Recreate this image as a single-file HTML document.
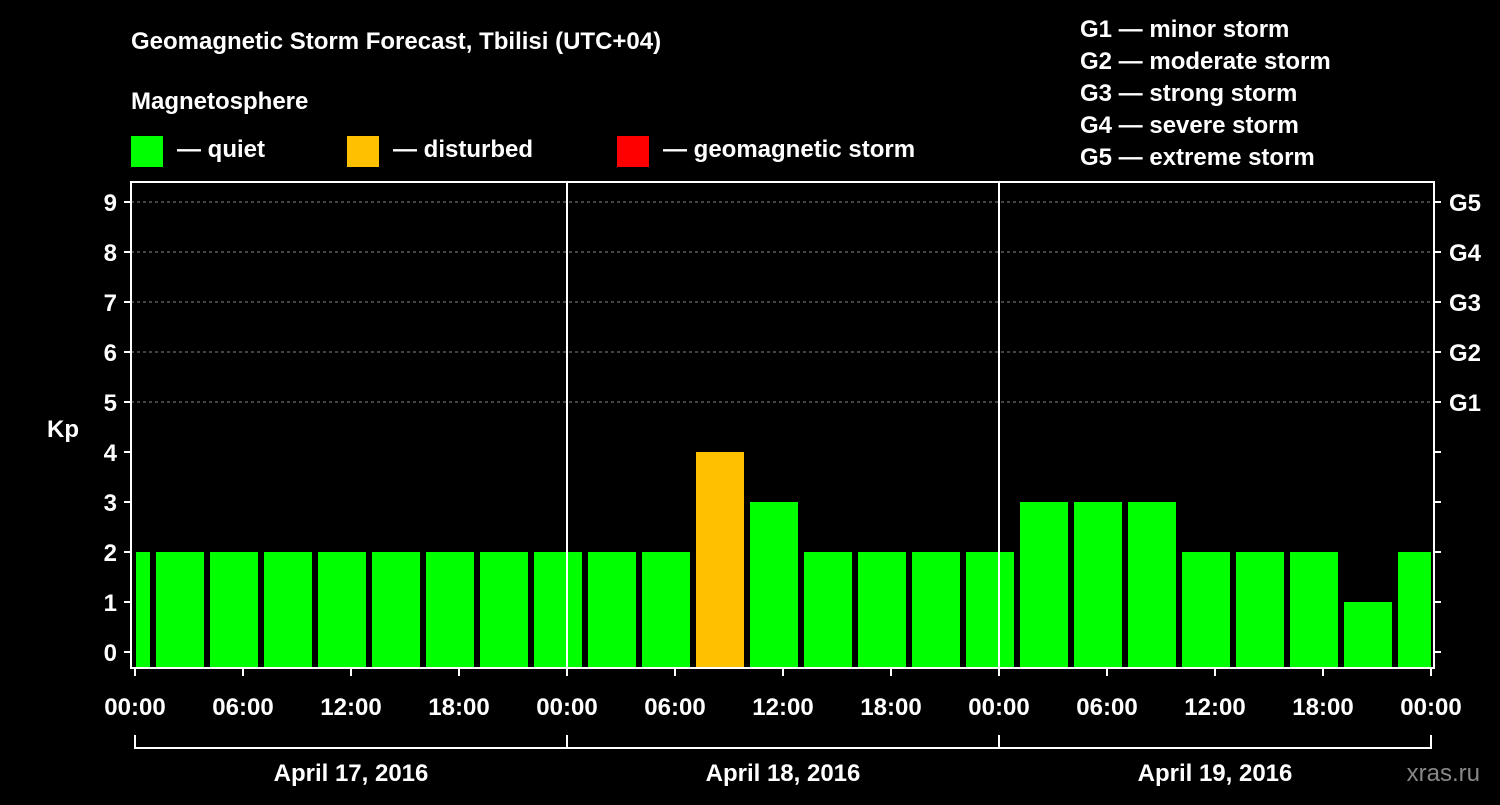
<!DOCTYPE html>
<html><head><meta charset="utf-8"><style>
body{margin:0;background:#000;width:1500px;height:800px;overflow:hidden;font-family:"Liberation Sans",sans-serif}
svg text{font-family:"Liberation Sans",sans-serif;font-weight:bold;fill:#fff}
</style></head><body>
<svg id="chart" width="1500" height="800" xmlns="http://www.w3.org/2000/svg">
<rect width="1500" height="800" fill="#000"/>
<text x="131" y="49" font-size="24">Geomagnetic Storm Forecast, Tbilisi (UTC+04)</text>
<text x="131" y="109" font-size="24">Magnetosphere</text>
<g><rect x="131" y="136" width="32" height="31" fill="#00ff00"/><text x="177" y="157" font-size="24">— quiet</text></g>
<g><rect x="347" y="136" width="32" height="31" fill="#ffc000"/><text x="393" y="157" font-size="24">— disturbed</text></g>
<g><rect x="617" y="136" width="32" height="31" fill="#ff0000"/><text x="663" y="157" font-size="24">— geomagnetic storm</text></g>
<g font-size="24">
<text x="1080" y="37">G1 — minor storm</text>
<text x="1080" y="69">G2 — moderate storm</text>
<text x="1080" y="101">G3 — strong storm</text>
<text x="1080" y="133">G4 — severe storm</text>
<text x="1080" y="165">G5 — extreme storm</text>
</g>
<g id="plot"></g>
<text x="63" y="437" font-size="24" text-anchor="middle">Kp</text>
<text x="1480" y="781" font-size="24" text-anchor="end" fill="#888" style="fill:#888;font-weight:normal">xras.ru</text>
</svg>
<script>
const kpValues=[2,2,2,2,2,2,2,2,2,2,2,4,3,2,2,2,2,3,3,3,2,2,2,1,2];
const barStartHours=[-2,1,4,7,10,13,16,19,22,25,28,31,34,37,40,43,46,49,52,55,58,61,64,67,70];
const yTicks=[0,1,2,3,4,5,6,7,8,9];
const gLabels=["G1","G2","G3","G4","G5"];
const gLevels=[5,6,7,8,9];
const xTickHours=[0,6,12,18,24,30,36,42,48,54,60,66,72];
const xTickLabels=["00:00","06:00","12:00","18:00","00:00","06:00","12:00","18:00","00:00","06:00","12:00","18:00","00:00"];
const dayLabels=["April 17, 2016","April 18, 2016","April 19, 2016"];

const NS="http://www.w3.org/2000/svg";
const plot=document.getElementById('plot');
const L=131,R=1434,T=182,B=668;
const xs=h=>135+h*18;
const ys=v=>652-v*50;
function el(tag,attrs,parent){const e=document.createElementNS(NS,tag);for(const k in attrs)e.setAttribute(k,attrs[k]);(parent||plot).appendChild(e);return e;}
const clip=el('clipPath',{id:'pc'});el('rect',{x:136,y:T,width:1295,height:B-T},clip);
// grid
gLevels.forEach(v=>{const l=el('line',{x1:L,x2:R,y1:ys(v),y2:ys(v),stroke:'#888','stroke-dasharray':'3,3'});

});
// bars
const bg=el('g',{'clip-path':'url(#pc)'});
kpValues.forEach((v,i)=>{
 const x0=xs(barStartHours[i])+3,x1=xs(barStartHours[i]+3)-3;
 const col=v>=5?'#ff0000':(v>=4?'#ffc000':'#00ff00');
 const r=el('rect',{x:x0,y:ys(v),width:x1-x0,height:B-ys(v),fill:col},bg);
 
 
});
// frame
el('rect',{x:L,y:T,width:R-L,height:B-T,fill:'none',stroke:'#fff','stroke-width':2});
[24,48].forEach(h=>{const l=el('line',{x1:xs(h),x2:xs(h),y1:T,y2:B,stroke:'#fff','stroke-width':2});

});
// y ticks
yTicks.forEach(v=>{
 el('line',{x1:L-7,x2:L,y1:ys(v),y2:ys(v),stroke:'#fff','stroke-width':2});
 el('line',{x1:R,x2:R+7,y1:ys(v),y2:ys(v),stroke:'#fff','stroke-width':2});
 const t=el('text',{x:117,y:ys(v)+9,'font-size':24,'text-anchor':'end'});t.textContent=v;
 
 
});
gLabels.forEach((g,i)=>{const t=el('text',{x:1449,y:ys(gLevels[i])+9,'font-size':24});t.textContent=g;
 
 });
// x ticks
xTickHours.forEach((h,i)=>{
 el('line',{x1:xs(h),x2:xs(h),y1:B,y2:B+8,stroke:'#fff','stroke-width':2});
 const t=el('text',{x:xs(h),y:715,'font-size':24,'text-anchor':'middle'});t.textContent=xTickLabels[i];
 
 
});
el('line',{x1:xs(0),x2:xs(72),y1:748,y2:748,stroke:'#fff','stroke-width':2});
[0,24,48,72].forEach(h=>el('line',{x1:xs(h),x2:xs(h),y1:735,y2:749,stroke:'#fff','stroke-width':2}));
dayLabels.forEach((d,i)=>{const t=el('text',{x:xs(i*24+12),y:781,'font-size':24,'text-anchor':'middle'});t.textContent=d;
 
 });
</script>
</body></html>
